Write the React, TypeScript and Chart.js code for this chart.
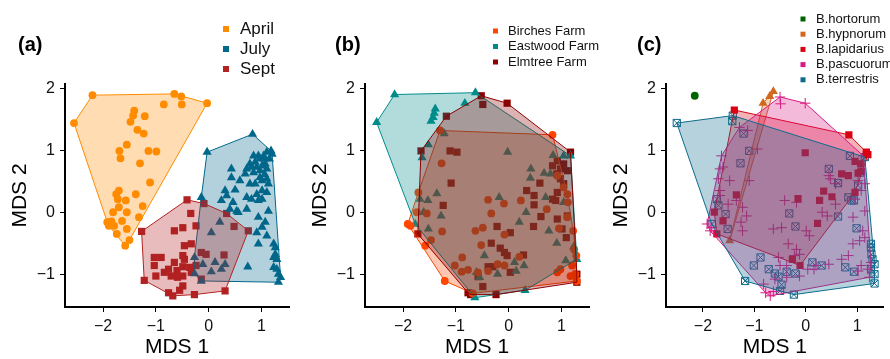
import React, { useEffect, useRef } from 'react';
import { Chart, registerables } from 'chart.js';

Chart.register(...registerables);

type Pt = [number, number];

// ---------- shared axes ----------
const xTicks = [-2, -1, 0, 1];
const xTickLabels = ['−2', '−1', '0', '1'];
const yTicks = [-1, 0, 1, 2];
const yTickLabels = ['−1', '0', '1', '2'];
const xRange = [-2.72, 1.52];
const yRange = [-1.52, 2.08];
const xTitle = 'MDS 1';
const yTitle = 'MDS 2';

// ---------- panel (a): month ----------
const monthLabels = ['April', 'July', 'Sept'];
const monthColors = ['#FF8C00', '#00688B', '#B22222'];
const april: Pt[] = [
  [-2.2, 1.9], [-0.65, 1.92], [-0.52, 1.88], [-0.03, 1.77], [-0.85, 1.75], [-0.51, 1.75], [-2.55, 1.45],
  [-1.41, 1.65], [-1.43, 1.57], [-1.21, 1.56], [-1.48, 1.47], [-1.35, 1.34], [-1.23, 1.28], [-1.55, 1.1],
  [-1.69, 1.0], [-1.14, 1.0], [-0.99, 0.99], [-1.67, 0.88], [-1.3, 0.8], [-1.11, 0.49], [-1.7, 0.36],
  [-1.75, 0.3], [-1.38, 0.3], [-1.72, 0.22], [-1.57, 0.2], [-1.25, 0.11], [-1.7, 0.09], [-1.81, 0.01],
  [-1.55, 0.01], [-1.32, -0.07], [-1.92, -0.15], [-1.84, -0.14], [-1.79, -0.21], [-1.89, -0.21],
  [-1.64, -0.13], [-1.55, -0.26], [-1.74, -0.34], [-1.5, -0.44], [-1.58, -0.53], [-1.87, -0.15],
];
const july: Pt[] = [
  [0.83, 1.27], [-0.03, 0.98], [1.18, 1.0], [1.2, 0.95], [1.1, 0.98], [1.04, 0.92], [0.94, 0.92], [0.85, 0.92],
  [1.15, 0.87], [1.06, 0.87], [0.97, 0.87], [0.88, 0.82], [0.78, 0.79], [1.07, 0.79], [1.01, 0.76], [0.91, 0.74],
  [0.81, 0.74], [0.72, 0.71], [0.43, 0.71], [1.1, 0.71], [0.97, 0.68], [0.85, 0.65], [0.69, 0.63], [1.06, 0.62],
  [0.97, 0.57], [0.43, 0.57], [0.59, 0.52], [1.1, 0.55], [1.01, 0.52], [0.88, 0.47], [0.78, 0.47], [1.13, 0.47],
  [0.31, 0.36], [0.5, 0.37], [1.01, 0.36], [1.1, 0.33], [0.91, 0.3], [0.34, 0.28], [0.72, 0.25], [0.81, 0.22],
  [1.01, 0.22], [-0.14, 0.25], [0.46, 0.17], [0.94, 0.2], [0.24, 0.2], [0.53, 0.03], [0.72, 0.06], [0.4, 0.06],
  [1.13, 0.03], [0.56, 0.01], [0.94, -0.07], [0.21, -0.15], [1.07, -0.15], [0.05, -0.32], [1.01, -0.23],
  [0.91, -0.32], [1.1, -0.37], [0.94, -0.5], [1.23, -0.5], [1.26, -0.56], [1.26, -0.67], [1.23, -0.72],
  [1.29, -0.75], [-0.27, -0.72], [-0.11, -0.83], [0.12, -0.8], [0.31, -0.83], [0.74, -0.87], [1.23, -0.88],
  [1.29, -0.91], [-0.27, -0.98], [0.05, -0.95], [0.24, -0.91], [-0.14, -1.1], [1.32, -0.99], [1.36, -1.04],
  [1.32, -1.12],
];
const sept: Pt[] = [
  [-0.41, 0.21], [-0.09, 0.15], [-0.34, -0.01], [0.34, -0.01], [-1.27, -0.3], [-0.24, -0.21], [0.48, -0.22],
  [0.75, -0.29], [-0.65, -0.29], [-0.49, -0.24], [-0.33, -0.5], [-0.46, -0.53], [-1.03, -0.72], [-0.9, -0.72],
  [-0.65, -0.8], [-0.49, -0.69], [-0.14, -0.64], [-0.05, -0.67], [0.29, -0.68], [-1.03, -0.85], [-0.76, -0.91],
  [-0.6, -0.93], [-0.49, -0.87], [-0.36, -0.88], [-0.24, -0.85], [-1.0, -1.02], [-0.84, -0.96], [-0.71, -1.02],
  [-0.59, -1.04], [-0.49, -1.02], [-0.33, -0.96], [-1.22, -1.09], [-0.49, -1.18], [-0.55, -1.25], [-0.76, -1.29],
  [-0.68, -1.34], [-0.27, -1.32], [0.31, -1.26], [-0.14, -1.07], [-0.46, -0.75],
];

// ---------- panel (b): farm ----------
const farmLabels = ['Birches Farm', 'Eastwood Farm', 'Elmtree Farm'];
const farmColors = ['#FF4500', '#008B8B', '#8B0000'];
const birches: Pt[] = [
  [0.83, 1.26], [-1.3, 1.33], [-1.27, 0.8], [-1.71, 0.33], [-1.74, 0.01], [-1.55, -0.01], [-1.91, -0.18],
  [-1.86, -0.21], [-1.26, -0.3], [-1.47, -0.44], [-1.58, -0.53], [-1.21, -1.1], [-0.39, 0.21], [-0.09, 0.15],
  [-0.33, -0.01], [0.23, 0.2], [0.72, 0.06], [-0.63, -0.29], [-0.49, -0.24], [-0.08, -0.35], [-0.52, -0.52],
  [-0.88, -0.72], [-1.02, -0.85], [-0.89, -0.95], [-0.77, -0.92], [-0.58, -0.96], [-0.39, -0.94], [-0.21, -0.83],
  [-0.08, -0.85], [0.2, -0.71], [0.98, -0.91], [0.92, -0.96], [1.2, -0.85], [1.26, -0.99], [1.17, -1.02],
  [1.29, -1.1], [1.11, -0.07], [0.95, -0.25], [1.22, -0.29], [1.12, 0.17], [1.11, 0.3], [1.04, 0.41],
  [0.92, 0.6], [-0.68, -1.3], [1.28, -0.69], [1.24, -0.59],
];
const eastwood: Pt[] = [
  [-2.16, 1.91], [-0.63, 1.94], [-2.5, 1.46], [-0.83, 1.77], [-1.39, 1.68], [-1.41, 1.61], [-1.43, 1.54],
  [-1.47, 1.48], [-1.22, 1.28], [-1.52, 1.1], [-1.64, 0.89], [-0.02, 0.98], [0.84, 0.93], [1.04, 0.92],
  [1.17, 0.92], [0.42, 0.71], [0.67, 0.64], [0.79, 0.63], [0.41, 0.56], [-1.68, 0.22], [-1.36, 0.31],
  [-1.53, 0.2], [-0.18, 0.25], [0.7, 0.25], [1.04, 0.17], [-1.61, 0.01], [-1.28, -0.05], [-1.77, -0.18],
  [0.33, 0.01], [0.2, -0.15], [-1.52, -0.26], [0.76, -0.29], [0.91, -0.49], [1.23, -0.55], [1.08, -0.77],
  [1.29, -0.75], [-0.46, -0.69], [-0.61, -0.96], [-0.21, -0.99], [0.11, -0.8], [0.29, -0.85], [0.14, -0.94],
  [-0.55, -1.04], [-0.64, -1.37], [0.31, -1.25],
];
const elmtree: Pt[] = [
  [-0.52, 1.89], [-0.03, 1.77], [-0.49, 1.75], [-1.18, 1.56], [-1.66, 1.0], [-1.11, 1.0], [-0.98, 0.98],
  [1.17, 0.98], [0.92, 0.84], [0.83, 0.76], [1.04, 0.79], [0.98, 0.71], [1.11, 0.68], [0.91, 0.63], [0.98, 0.55],
  [1.04, 0.47], [-1.09, 0.48], [0.59, 0.48], [0.34, 0.36], [0.48, 0.28], [0.92, 0.33], [0.83, 0.22], [0.89, 0.2],
  [0.48, 0.13], [-1.24, 0.12], [1.11, -0.05], [0.61, -0.06], [0.92, -0.1], [-0.22, -0.22], [0.47, -0.22],
  [0.03, -0.32], [1.01, -0.26], [1.09, -0.4], [-0.33, -0.49], [-0.16, -0.57], [-0.08, -0.64], [-0.03, -0.69],
  [0.28, -0.68], [-0.3, -0.87], [-0.39, -0.87], [0.03, -0.96], [-0.58, -1.03], [-0.49, -1.19], [-0.77, -1.29],
  [-0.72, -1.32], [-0.24, -1.32], [1.29, -0.99], [1.29, -1.12], [-1.72, -0.34],
];

// ---------- panel (c): species ----------
const speciesLabels = ['B.hortorum', 'B.hypnorum', 'B.lapidarius', 'B.pascuorum', 'B.terrestris'];
const speciesColors = ['#006400', '#D2691E', '#DA0012', '#D81B84', '#0E6A8C'];
const hortorum: Pt[] = [[-2.16, 1.89]];
const hypnorum: Pt[] = [[-0.63, 1.96], [-0.7, 1.88], [-0.83, 1.77], [-1.48, -0.45]];
const lapidarius: Pt[] = [
  [-1.39, 1.66], [0.84, 1.26], [1.18, 0.98], [1.21, 0.94], [-0.01, 0.97], [0.96, 0.83], [1.07, 0.79],
  [1.09, 0.67], [0.7, 0.63], [0.83, 0.6], [1.02, 0.64], [0.35, 0.35], [0.51, 0.26], [0.27, 0.2], [-0.15, 0.23],
  [0.96, 0.33], [-1.35, 0.29], [-1.78, 0.01], [-1.61, -0.13], [-1.73, -0.34], [0.23, -0.17], [-0.26, -0.75],
  [-0.11, -0.85],
];
const pascuorum: Pt[] = [
  [-0.5, 1.87], [-0.01, 1.77], [-0.49, 1.76], [-1.29, 1.38], [-1.13, 1.33], [-1.64, 0.92], [-1.61, 0.74],
  [-1.1, 0.52], [-1.67, 0.71], [-1.7, 0.55], [-1.67, 0.36], [-1.35, 0.2], [-1.51, 0.14], [-1.23, 0.09],
  [-1.15, -0.05], [-1.26, -0.15], [-1.92, -0.18], [-1.86, -0.29], [-1.23, -0.29], [-0.63, -0.26], [-0.47, -0.24],
  [-0.41, 0.2], [-0.18, 0.17], [0.32, 0.01], [0.42, -0.05], [0.58, 0.14], [0.48, 0.55], [0.45, 0.6], [0.58, 0.47],
  [1.02, 0.52], [1.15, 0.47], [1.08, 0.36], [0.96, 0.22], [1.15, 0.03], [0.92, -0.07], [1.11, -0.29],
  [1.15, -0.4], [1.05, -0.45], [0.92, -0.5], [0.01, -0.29], [0.07, -0.37], [-0.34, -0.5], [-0.18, -0.59],
  [-0.12, -0.67], [-0.22, -0.69], [-0.53, -0.72], [-0.5, -0.85], [-0.37, -0.85], [0.04, -0.91], [0.16, -0.91],
  [0.2, -0.85], [-0.12, -1.02], [-0.37, -1.04], [-0.6, -1.07], [-0.82, -1.15], [-0.78, -1.29], [-0.69, -1.34],
  [-0.63, -1.27], [0.45, -0.83], [0.7, -0.75], [0.83, -0.69], [1.08, -0.85], [1.02, -0.94], [1.21, -0.91],
  [1.27, -0.8], [1.24, -1.04], [-1.83, -0.24], [-1.67, 0.28], [-1.48, 0.52], [-0.94, 1.03], [1.12, 0.92],
];
const terrestris: Pt[] = [
  [-2.51, 1.45], [-1.43, 1.48], [-1.42, 1.57], [-1.21, 1.28], [-1.1, 1.0], [-1.27, 0.8], [0.45, 0.71],
  [0.63, 0.48], [0.83, 0.25], [0.89, 0.2], [0.86, 0.92], [1.15, 0.9], [1.07, 0.65], [1.02, 0.44], [0.94, 0.2],
  [0.63, -0.06], [-0.32, -0.01], [-0.2, -0.22], [0.99, -0.25], [-1.73, 0.22], [-1.7, 0.12], [-1.56, -0.02],
  [-1.52, -0.26], [-1.83, -0.18], [-0.88, -0.72], [-1.01, -0.85], [-0.72, -0.91], [-0.6, -0.98], [-0.53, -1.03],
  [-0.37, -0.95], [-0.2, -0.98], [0.13, -0.8], [0.31, -0.85], [0.77, -0.88], [0.94, -0.95], [-0.47, -1.16],
  [-0.5, -1.26], [-0.23, -1.32], [-1.18, -1.1], [1.27, -0.5], [1.27, -0.56], [1.28, -0.67], [1.3, -0.75],
  [1.34, -0.83], [1.27, -0.91], [1.34, -0.99], [1.34, -1.14],
];

// ---------- helpers ----------
const FONT = '"Liberation Sans", Arial, Helvetica, sans-serif';

function rgba(hex: string, a: number) {
  const n = parseInt(hex.slice(1), 16);
  return `rgba(${(n >> 16) & 255},${(n >> 8) & 255},${n & 255},${a})`;
}

function convexHull(points: Pt[]) {
  const p = points.map(([x, y]) => ({ x, y })).sort((a, b) => a.x - b.x || a.y - b.y);
  if (p.length < 3) return [];
  const cross = (o: any, a: any, b: any) => (a.x - o.x) * (b.y - o.y) - (a.y - o.y) * (b.x - o.x);
  const lower: any[] = [];
  for (const q of p) {
    while (lower.length >= 2 && cross(lower[lower.length - 2], lower[lower.length - 1], q) <= 0) lower.pop();
    lower.push(q);
  }
  const upper: any[] = [];
  for (let i = p.length - 1; i >= 0; i--) {
    const q = p[i];
    while (upper.length >= 2 && cross(upper[upper.length - 2], upper[upper.length - 1], q) <= 0) upper.pop();
    upper.push(q);
  }
  upper.pop();
  lower.pop();
  const h = lower.concat(upper);
  h.push({ ...h[0] });
  return h;
}

interface Group { label: string; color: string; shape: string; points: Pt[] }

function groupsOf(labels: string[], colors: string[], shapes: string[], pts: Pt[][]): Group[] {
  return labels.map((label, i) => ({ label, color: colors[i], shape: shapes[i], points: pts[i] }));
}

const panels = [
  {
    tag: '(a)', left: 0, width: 295, plotLeft: 65, padRight: 6, yTitlePad: 10, tagX: 18,
    boxX: 226, box: 6, textX: 240, legendY: 29, legendGap: 20, legendSize: 17,
    groups: groupsOf(monthLabels, monthColors, ['circle', 'triangle', 'rect'], [april, july, sept]),
  },
  {
    tag: '(b)', left: 295, width: 312, plotLeft: 70, padRight: 18, yTitlePad: 15, tagX: 40,
    boxX: 200.5, box: 5, textX: 213, legendY: 31, legendGap: 15.5, legendSize: 13,
    groups: groupsOf(farmLabels, farmColors, ['circle', 'triangle', 'rect'], [birches, eastwood, elmtree]),
  },
  {
    tag: '(c)', left: 590, width: 300, plotLeft: 76, padRight: 0, yTitlePad: 21, tagX: 47,
    boxX: 213, box: 5, textX: 226, legendY: 19, legendGap: 15.2, legendSize: 13,
    groups: groupsOf(speciesLabels, speciesColors, ['circle', 'triangle', 'rect', 'cross', 'boxcross'],
      [hortorum, hypnorum, lapidarius, pascuorum, terrestris]),
  },
];

function pointStyleFor(shape: string) {
  if (shape === 'circle') return { pointStyle: 'circle', pointRadius: 3.9, pointBorderWidth: 0 };
  if (shape === 'triangle') return { pointStyle: 'triangle', pointRadius: 5.3, pointBorderWidth: 0 };
  if (shape === 'rect') return { pointStyle: 'rect', pointRadius: 5.1, pointBorderWidth: 0 };
  return { pointStyle: 'cross', pointRadius: 5.2, pointBorderWidth: 1 };
}

function buildDatasets(groups: Group[]) {
  const ds: any[] = [];
  groups.forEach((g, i) => {
    const pts = g.points.map(([x, y]) => ({ x, y }));
    if (g.shape === 'boxcross') {
      ds.push({
        type: 'scatter', data: pts, order: 100, pointStyle: 'rect', pointRadius: 5.1,
        pointBackgroundColor: 'rgba(0,0,0,0)', pointBorderColor: g.color, pointBorderWidth: 1,
      });
      ds.push({
        type: 'scatter', data: pts, order: 100, pointStyle: 'crossRot', pointRadius: 5.1,
        pointBackgroundColor: g.color, pointBorderColor: g.color, pointBorderWidth: 1,
      });
    } else {
      ds.push({
        type: 'scatter', data: pts, order: 100, ...pointStyleFor(g.shape),
        pointBackgroundColor: g.color, pointBorderColor: g.color,
      });
    }
    const hull = convexHull(g.points);
    if (hull.length) {
      ds.push({
        type: 'line', data: hull, order: 50 - i, borderColor: g.color, borderWidth: 1,
        backgroundColor: rgba(g.color, 0.3), fill: 'shape', pointRadius: 0, tension: 0,
      });
    }
  });
  return ds;
}

function labelFor(ticks: number[], labels: string[], v: number) {
  const i = ticks.findIndex((t) => Math.abs(t - v) < 1e-9);
  return i >= 0 ? labels[i] : '';
}

function decorPlugin(spec: any) {
  return {
    id: 'decor',
    afterDraw(chart: any) {
      const ctx = chart.ctx;
      ctx.save();
      ctx.textBaseline = 'middle';
      ctx.textAlign = 'left';
      ctx.fillStyle = '#000';
      ctx.font = `bold 20px ${FONT}`;
      ctx.fillText(spec.tag, spec.tagX, 45);
      spec.groups.forEach((g: Group, i: number) => {
        const y = spec.legendY + i * spec.legendGap;
        ctx.fillStyle = g.color;
        ctx.fillRect(spec.boxX - spec.box / 2, y - spec.box / 2, spec.box, spec.box);
        ctx.fillStyle = '#111';
        ctx.font = `${spec.legendSize}px ${FONT}`;
        ctx.fillText(g.label, spec.textX, y);
      });
      ctx.restore();
    },
  };
}

function Panel({ spec }: { spec: any }) {
  const ref = useRef<HTMLCanvasElement>(null);
  useEffect(() => {
    const canvas = ref.current!;
    const tickFont = { family: FONT, size: 16 };
    const titleFont = { family: FONT, size: 21, lineHeight: 1 };
    const grid = { drawOnChartArea: false, drawTicks: true, tickLength: 5, color: '#000', lineWidth: 1 };
    const border = { display: true, color: '#000', width: 2 };
    const chart = new Chart(canvas, {
      type: 'scatter',
      data: { datasets: buildDatasets(spec.groups) },
      options: {
        responsive: false,
        animation: false,
        events: [],
        layout: { padding: { left: 0, right: spec.padRight, top: 84, bottom: 0 } },
        plugins: { legend: { display: false }, tooltip: { enabled: false } },
        scales: {
          x: {
            type: 'linear', min: xRange[0], max: xRange[1],
            afterBuildTicks: (s: any) => { s.ticks = xTicks.map((v) => ({ value: v })); },
            afterFit: (s: any) => { s.height = 52; },
            ticks: {
              callback: (v: any) => labelFor(xTicks, xTickLabels, Number(v)),
              font: tickFont, color: '#111', padding: 5, maxRotation: 0, autoSkip: false,
            },
            grid, border,
            title: { display: true, text: xTitle, font: titleFont, color: '#000', padding: { top: 0, bottom: 1 } },
          },
          y: {
            type: 'linear', min: yRange[0], max: yRange[1],
            afterBuildTicks: (s: any) => { s.ticks = yTicks.map((v) => ({ value: v })); },
            afterFit: (s: any) => { s.width = spec.plotLeft; },
            ticks: {
              callback: (v: any) => labelFor(yTicks, yTickLabels, Number(v)),
              font: tickFont, color: '#111', padding: 5, autoSkip: false,
            },
            grid, border,
            title: { display: true, text: yTitle, font: titleFont, color: '#000', padding: { top: spec.yTitlePad, bottom: 0 } },
          },
        },
      } as any,
      plugins: [decorPlugin(spec)],
    });
    return () => chart.destroy();
  }, [spec]);
  return (
    <canvas
      ref={ref}
      width={spec.width}
      height={359}
      style={{ position: 'absolute', left: spec.left, top: 0, width: spec.width, height: 359, display: 'block' }}
    />
  );
}

export default function App() {
  return (
    <div style={{ position: 'absolute', left: 0, top: 0, width: 890, height: 359, background: '#fff', overflow: 'hidden' }}>
      {panels.map((p) => (
        <Panel key={p.tag} spec={p} />
      ))}
    </div>
  );
}
